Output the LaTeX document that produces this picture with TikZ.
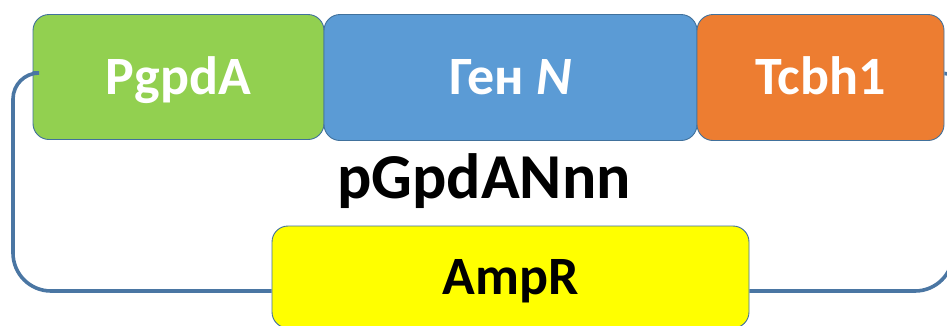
\documentclass[tikz,border=0pt]{standalone}
\usepackage{fontspec}
\setmainfont{Carlito}
\definecolor{cgreen}{HTML}{92D050}
\definecolor{cblue}{HTML}{5B9BD5}
\definecolor{corange}{HTML}{ED7D31}
\definecolor{cyellow}{HTML}{FFFF00}
\definecolor{cborder}{HTML}{41719C}
\definecolor{cloop}{HTML}{4A76A3}
\begin{document}
\begin{tikzpicture}[x=1pt,y=-1pt,
  seg/.style={draw=cborder, line width=0.9pt, rounded corners=16pt, inner sep=0pt,
    font=\fontsize{54}{64}\selectfont\bfseries, text height=34pt, text depth=0pt},
  loopline/.style={draw=cloop, line width=3.6pt},
  title/.style={font=\fontsize{64}{76}\selectfont\bfseries, text=black, inner sep=0pt, anchor=base}
]
\useasboundingbox (0,0) rectangle (947,325);
\fill[white] (0,0) rectangle (947,325);
% segment boxes
\node[seg, fill=cgreen, text=white, minimum width=291pt, minimum height=125pt] (pg) at (178.5,77) {PgpdA};
\node[seg, fill=cblue, text=white, minimum width=373pt, minimum height=126pt] (gen) at (510.5,77.5) {Ген \textit{N}};
\node[seg, fill=corange, text=white, minimum width=247pt, minimum height=126pt] (tc) at (820.5,77.5) {Tcbh1};
\node[seg, fill=cyellow, text=black, minimum width=477pt, minimum height=102pt] (amp) at (510.5,277) {AmpR};
\node[title] (name) at (484,198) {pGpdANnn};
% plasmid loop
\coordinate (lb) at (13,291);
\coordinate (rb) at (953,291);
\draw[loopline] ([yshift=4pt]pg.west) [rounded corners=26pt] -| (lb |- name) [rounded corners=38pt] |- (amp.west |- lb);
\draw[loopline] ([yshift=4pt]tc.east) [rounded corners=8pt] -| (rb |- name) [rounded corners=38pt] |- (amp.east |- rb);
\end{tikzpicture}
\end{document}
